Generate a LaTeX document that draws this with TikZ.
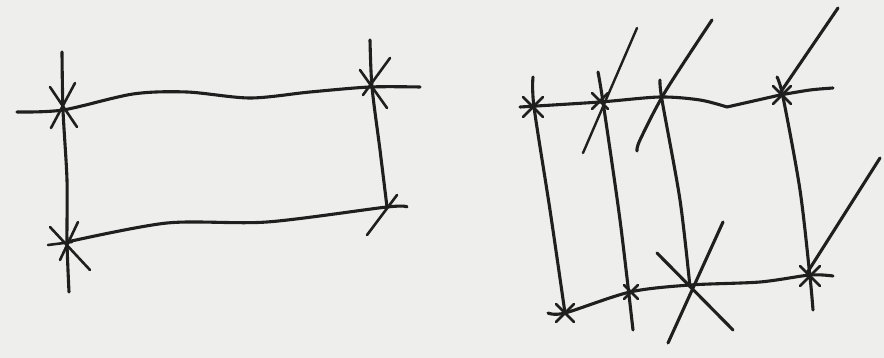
\documentclass[tikz,border=0pt]{standalone}
\usepackage{xcolor}
\usepackage{tikz}
\definecolor{paperGray}{HTML}{EEEEEC}
\definecolor{inkDark}{HTML}{1F1F1F}

\begin{document}
\begin{tikzpicture}[x=1pt,y=-1pt]

		\tikzset{
            stroke/.style={
                draw=inkDark,
                line width=3.1pt,
                line cap=round,
                line join=round
            },
            tick/.style={
                stroke,
                line width=2.6pt
            }
        }
        
        \newcommand{\StarMark}[3]{
            \draw[tick] (#1-#3,#2-#3) -- (#1+#3,#2+#3);
            \draw[tick] (#1-#3,#2+#3) -- (#1+#3,#2-#3);
        }
        
        \fill[paperGray] (0,0) rectangle (884,358);
        \useasboundingbox (0,0) rectangle (884,358);
        
        % left frame
        \draw[stroke] plot[smooth] coordinates {(17,112) (63,110) (133,94) (187,92) (250,98) (310,92) (370,87) (420,87)};
        \draw[stroke] plot[smooth] coordinates {(67,242) (167,223) (267,222) (387,207) (407,207)};
        \draw[stroke] plot[smooth] coordinates {(62,52) (63,110) (67,180) (67,242) (69,292)};
        \draw[stroke] plot[smooth] coordinates {(370,40) (372,87) (380,150) (387,207)};
        
        \draw[tick] (50,87) -- (77,127);
        \draw[tick] (51,128) -- (75,83);
        \draw[tick] (360,70) -- (387,108);
        \draw[tick] (390,58) -- (363,95);
        \draw[tick] (50,227) -- (90,270);
        \draw[tick] (60,260) -- (78,222);
        \draw[tick] (48,245) -- (72,242);
        \draw[tick] (367,235) -- (397,195);
        
        % right frame
        \draw[stroke] plot[smooth] coordinates {(520,107) (600,102) (660,97) (700,100) (727,107)};
        \draw[stroke] (727,107) -- (780,95);
        \draw[stroke] plot[smooth] coordinates {(780,95) (810,90) (833,88)};
        \draw[stroke] plot[smooth] coordinates {(548,313) (565,313) (630,292) (690,285) (760,282) (810,275) (833,276)};
        
        \draw[stroke] plot[smooth] coordinates {(533,77) (534,107) (550,210) (565,313)};
        \draw[stroke] plot[smooth] coordinates {(598,72) (603,102) (620,220) (633,330)};
        \draw[stroke] plot[smooth] coordinates {(660,80) (662,100) (680,200) (690,287)};
        \draw[stroke] plot[smooth] coordinates {(777,77) (783,97) (800,190) (810,277) (813,310)};
        
        % slanted strokes
        \draw[stroke, line width=2.4pt] (637,28) -- (583,153);
        \draw[stroke] plot[smooth] coordinates {(712,20) (665,92) (640,140) (637,151)};
        \draw[stroke] (838,8) -- (780,93);
        \draw[stroke] (880,158) -- (807,273);
        \draw[stroke] (723,222) -- (668,343);
        \draw[stroke] (657,253) -- (733,330);
        
        \StarMark{533}{107}{10}
        \StarMark{600}{101}{8}
        \StarMark{782}{95}{9}
        \StarMark{565}{313}{9}
        \StarMark{631}{292}{7}
        \StarMark{810}{276}{10}
        
        \end{tikzpicture}
\end{document}
